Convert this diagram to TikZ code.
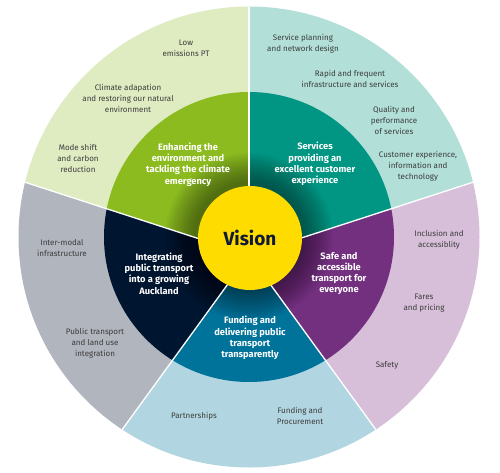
\documentclass[tikz,border=0pt]{standalone}
\usepackage{fontspec}
\setmainfont{Fira Sans}
\usetikzlibrary{calc}
\definecolor{lgreen}{HTML}{DFEBC1}
\definecolor{lteal}{HTML}{B2E0D9}
\definecolor{lpurple}{HTML}{D7BFD9}
\definecolor{lblue}{HTML}{B2D6E1}
\definecolor{lgrey}{HTML}{B1B5BE}
\definecolor{dgreen}{HTML}{8CBB1F}
\definecolor{dteal}{HTML}{009683}
\definecolor{dpurple}{HTML}{73307F}
\definecolor{dblue}{HTML}{00739B}
\definecolor{dnavy}{HTML}{001530}
\definecolor{vyellow}{HTML}{FFDC00}
\definecolor{vnavy}{HTML}{0E1A38}
\definecolor{txtgrey}{HTML}{3C3C3C}
\begin{document}
\begin{tikzpicture}[x=1pt,y=1pt,
  outertext/.style={align=center, font=\fontsize{8}{11}\selectfont, text=txtgrey, inner sep=0pt},
  midtext/.style={align=center, font=\fontsize{9.3}{11.3}\selectfont\bfseries, text=white, inner sep=0pt},
  sepline/.style={white, line width=1.3pt}]
\useasboundingbox[fill=white] (0,0) rectangle (500,472);
\coordinate (C) at (249,235);
\coordinate (P) at (249,217);
\foreach \a/\b/\outc/\midc in {90/162/lgreen/dgreen, 18/90/lteal/dteal, -54/18/lpurple/dpurple, -126/-54/lblue/dblue, 162/234/lgrey/dnavy} {
  \begin{scope}
    \clip (P) -- ($(P)+(\a:400)$) -- ($(P)+({(\a+\b)/2}:400)$) -- ($(P)+(\b:400)$) -- cycle;
    \fill[\outc] (C) circle (230.5);
    \fill[\midc] (C) circle (145);
  \end{scope}
}
\foreach \r in {56,58,...,84} \fill[black, opacity=0.03] (C) circle (\r);
\begin{scope}
  \clip (C) circle (230.5);
  \foreach \a in {90,18,-54,-126,162} {
    \coordinate (e) at ($(P)+(\a:400)$);
    \draw[sepline] (P) -- (e);
  }
\end{scope}
\node[circle, fill=vyellow, minimum size=104pt, inner sep=0pt, text=vnavy, font=\fontsize{19}{22}\selectfont\bfseries] (vision) at (250,234) {Vision};
% middle ring
\node[midtext] (env) at (188,307.5) {Enhancing the\\environment and\\tackling the climate\\emergency};
\node[midtext] (serv) at (315,308) {Services\\providing an\\excellent customer\\experience};
\node[midtext] (safe) at (339,198.5) {Safe and\\accessible\\transport for\\everyone};
\node[midtext] (fund) at (250,134) {Funding and\\delivering public\\transport\\transparently};
\node[midtext] (integ) at (159,198.5) {Integrating\\public transport\\into a growing\\Auckland};
% outer ring
\node[outertext] (o1) at (186,423.5) {Low\\emissions PT};
\node[outertext] (o2) at (128,374) {Climate adapation\\and restoring our natural\\environment};
\node[outertext] (o3) at (78,313.5) {Mode shift\\and carbon\\reduction};
\node[outertext] (o4) at (303,428.5) {Service planning\\and network design};
\node[outertext] (o5) at (350,393.5) {Rapid and frequent\\infrastructure and services};
\node[outertext] (o6) at (394,352) {Quality and\\performance\\of services};
\node[outertext] (o7) at (418,305.5) {Customer experience,\\information and\\technology};
\node[outertext] (o8) at (439,232.5) {Inclusion and\\accessiblity};
\node[outertext] (o9) at (424,168.5) {Fares\\and pricing};
\node[outertext] (o10) at (387,107) {Safety};
\node[outertext] (o11) at (300,56.5) {Funding and\\Procurement};
\node[outertext] (o12) at (194,56) {Partnerships};
\node[outertext] (o13) at (95,129) {Public transport\\and land use\\integration};
\node[outertext] (o14) at (62,223.5) {Inter-modal\\infrastructure};
\end{tikzpicture}
\end{document}
